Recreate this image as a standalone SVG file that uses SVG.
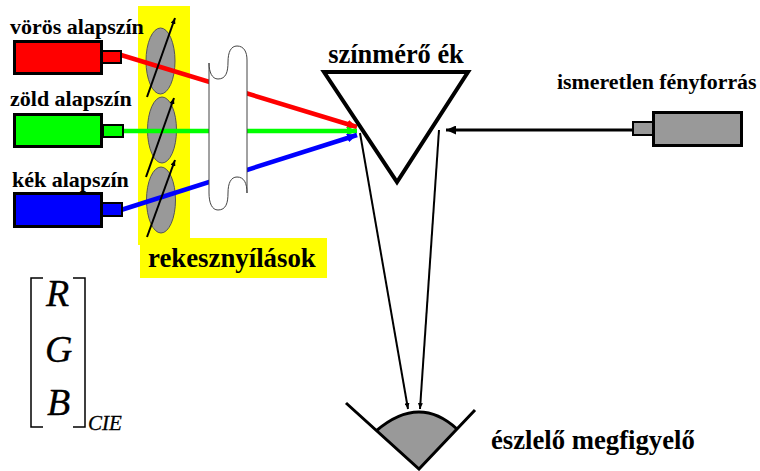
<svg xmlns="http://www.w3.org/2000/svg" width="760" height="471" viewBox="0 0 760 471">
<style>
text{font-family:"Liberation Serif","Times New Roman",serif;fill:#000}
.b{font-weight:bold}
.i{font-style:italic;stroke:#000;stroke-width:.3}
.dev{stroke:#000;stroke-width:3}
.noz{stroke:#000;stroke-width:2}
.ap{fill:#999;stroke:#555;stroke-width:1}
.ray{stroke-width:4.500;fill:none}
.k{stroke:#000;fill:none}
</style>
<defs>
<marker id="ah" markerUnits="userSpaceOnUse" viewBox="0 0 10 9" refX="10" refY="4.500" markerWidth="10" markerHeight="9" orient="auto"><path d="M0 0L10 4.500L0 9z" fill="context-stroke"/></marker>
<marker id="as" markerUnits="userSpaceOnUse" viewBox="0 0 6 5" refX="6" refY="2.500" markerWidth="6" markerHeight="5" orient="auto"><path d="M0 0L6 2.500L0 5z" fill="#000"/></marker>
</defs>
<g id="aperture-panel">
<rect x="138" y="6" width="52" height="239" fill="#ff0"/>
<rect x="140" y="238" width="187" height="40" fill="#ff0"/>
<text class="b" x="148" y="267" font-size="26.800">rekesznyílások</text>
</g>
<g id="apertures">
<ellipse class="ap" cx="160.500" cy="61" rx="14.500" ry="33"/>
<ellipse class="ap" cx="162" cy="130" rx="14.500" ry="33"/>
<ellipse class="ap" cx="161" cy="200" rx="14.500" ry="33"/>
</g>
<g id="connectors">
<path class="ray" stroke="#f00" d="M121 55L357 127" marker-end="url(#ah)"/>
<path class="ray" stroke="#0f0" d="M123 131L357 131" marker-end="url(#ah)"/>
<path class="ray" stroke="#00f" d="M121 210L357 135" marker-end="url(#ah)"/>
<path class="k" stroke-width="2" d="M147 97L175 18" marker-end="url(#as)"/>
<path class="k" stroke-width="2" d="M146 177L174 98" marker-end="url(#as)"/>
<path class="k" stroke-width="2" d="M147 237L175 160" marker-end="url(#as)"/>
<path class="k" stroke-width="3" d="M632 130L446 130" marker-end="url(#ah)"/>
<path class="k" stroke-width="2" d="M360 133L408 409" marker-end="url(#as)"/>
<path class="k" stroke-width="2" d="M439 130L420 409" marker-end="url(#as)"/>
</g>
<g id="screen">
<path d="M209 63C209 72 212 79 218 79C226 79 228 72 228 62C228 52 231 46 237 46C244 46 247 52 247 60L247 193C247 183 244 177 237 177C231 177 228 183 228 193C228 203 226 210 218 210C212 210 209 203 209 193Z" fill="#fff" stroke="#444" stroke-width="1"/>
</g>
<g id="red-source">
<rect class="dev" x="14.500" y="41.500" width="87" height="32" fill="#f00"/>
<rect class="noz" x="102" y="51" width="19" height="12" fill="#f00"/>
<text class="b" x="10" y="34" font-size="22">vörös alapszín</text>
</g>
<g id="green-source">
<rect class="dev" x="14.500" y="114.500" width="87" height="32" fill="#0f0"/>
<rect class="noz" x="103" y="125" width="20" height="12" fill="#0f0"/>
<text class="b" x="10" y="106" font-size="22">zöld alapszín</text>
</g>
<g id="blue-source">
<rect class="dev" x="14.500" y="193.500" width="87" height="33" fill="#00f"/>
<rect class="noz" x="102" y="203" width="20" height="13" fill="#00f"/>
<text class="b" x="12" y="187" font-size="22">kék alapszín</text>
</g>
<g id="wedge">
<path d="M324 72L468 72L397 182Z" fill="none" stroke="#000" stroke-width="4"/>
<text class="b" x="396" y="63" font-size="26.400" text-anchor="middle">színmérő ék</text>
</g>
<g id="unknown-source">
<rect class="dev" x="653.500" y="112.500" width="88" height="33" fill="#999"/>
<rect class="noz" x="633" y="122" width="20" height="13" fill="#999"/>
<text class="b" x="557" y="89" font-size="21.900">ismeretlen fényforrás</text>
</g>
<g id="observer">
<path d="M376 431Q419 394 457 429L419 469Z" fill="#999"/>
<path class="k" stroke-width="3" d="M376 431Q419 394 457 429"/>
<path class="k" stroke-width="3" d="M346 403L419 469L475 410"/>
<text class="b" x="491" y="449" font-size="26.700">észlelő megfigyelő</text>
</g>
<g id="rgb-vector">
<path class="k" stroke-width="1.500" d="M43 278L31 278L31 427L43 427M73 278L85 278L85 427L73 427"/>
<text class="i" x="46" y="306" font-size="38">R</text>
<text class="i" x="45" y="362" font-size="38">G</text>
<text class="i" x="47" y="415" font-size="38">B</text>
<text class="i" x="88" y="430" font-size="21">CIE</text>
</g>
</svg>
